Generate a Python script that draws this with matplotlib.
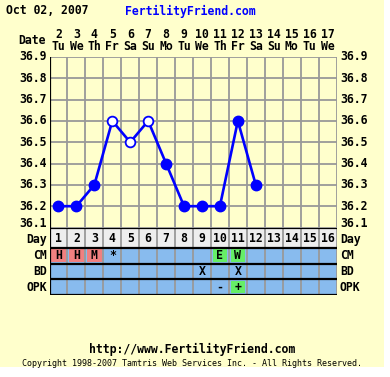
import matplotlib
matplotlib.use('Agg')
import matplotlib.pyplot as plt
from matplotlib.patches import Rectangle
from matplotlib.transforms import blended_transform_factory, offset_copy

# chart data
days = list(range(1, 17))
dates = [2, 3, 4, 5, 6, 7, 8, 9, 10, 11, 12, 13, 14, 15, 16, 17]
weekdays = ['Tu', 'We', 'Th', 'Fr', 'Sa', 'Su', 'Mo', 'Tu', 'We', 'Th', 'Fr', 'Sa', 'Su', 'Mo', 'Tu', 'We']
temp_days = [1, 2, 3, 4, 5, 6, 7, 8, 9, 10, 11, 12]
temps = [36.2, 36.2, 36.3, 36.6, 36.5, 36.6, 36.4, 36.2, 36.2, 36.2, 36.6, 36.3]
open_days = [4, 5, 6]
yticks = [36.1, 36.2, 36.3, 36.4, 36.5, 36.6, 36.7, 36.8, 36.9]
cm = {1: 'H', 2: 'H', 3: 'M', 4: '*', 10: 'E', 11: 'W'}
bd = {9: 'X', 11: 'X'}
opk = {10: '-', 11: '+'}

BG = '#FFFFCC'
BLUE = '#0000FF'
ROW = '#88BBEE'
GRID = '#999999'
RED = '#F08080'
GREEN = '#66EE66'
W, H = 390, 377
MONO = 'DejaVu Sans Mono'


def fx(x):
    return x / W


def fy(y):
    return 1 - y / H


fig = plt.figure(figsize=(3.9, 3.77), dpi=100, facecolor='white')
fig.patches.append(Rectangle((0, fy(367)), fx(384), 1 - fy(367), transform=fig.transFigure,
                             facecolor=BG, edgecolor='none', zorder=-10))

left, right, top, mid, bot = 49.5, 336.5, 57, 227.5, 295
ax = fig.add_axes([fx(left), fy(mid), fx(right - left), (mid - top) / H])
ax.set_facecolor(BG)
ax.set_xlim(0.5, 16.5)
ax.set_ylim(36.1, 36.9)
for d in range(0, 17):
    ax.axvline(d + 0.5, color=GRID, lw=1.3, zorder=1)
for t in yticks:
    ax.axhline(t, color=GRID, lw=1.3, zorder=1)
ax.set_xticks([])
ax.set_yticks([])
for s in ax.spines.values():
    s.set_visible(False)
ax.axvline(0.5, color='black', lw=1.6, zorder=2)

ax.plot(temp_days, temps, color=BLUE, lw=1.9, zorder=3)
filled = [(d, t) for d, t in zip(temp_days, temps) if d not in open_days]
hollow = [(d, t) for d, t in zip(temp_days, temps) if d in open_days]
ax.plot([p[0] for p in filled], [p[1] for p in filled], 'o', color=BLUE, ms=7.5, zorder=4, ls='none')
ax.plot([p[0] for p in hollow], [p[1] for p in hollow], 'o', mfc='white', mec=BLUE, mew=1.3,
        ms=7, zorder=4, ls='none')

ytr = blended_transform_factory(ax.transAxes, ax.transData)
for t in yticks:
    lab = '%.1f' % t
    tr = ytr
    if t == yticks[0]:
        tr = offset_copy(ytr, fig=fig, y=4, units='dots')
    ax.text(-0.01, t, lab, transform=tr, ha='right', va='center', fontsize=8.3, fontweight='bold', family=MONO)
    ax.text(1.012, t, lab, transform=tr, ha='left', va='center', fontsize=8.3, fontweight='bold', family=MONO)

# header: dates and weekdays
hdr = blended_transform_factory(ax.transData, fig.transFigure)
for d, dt, wd in zip(days, dates, weekdays):
    ax.text(d, fy(34), str(dt), transform=hdr, ha='center', va='center',
            fontsize=8.3, fontweight='bold', family=MONO)
    ax.text(d, fy(47), wd, transform=hdr, ha='center', va='center',
            fontsize=8.3, fontweight='bold', family=MONO)
fig.text(fx(46), fy(41), 'Date', ha='right', va='center', fontsize=8.3, fontweight='bold', family=MONO)
fig.text(fx(6), fy(11), 'Oct 02, 2007', ha='left', va='center', fontsize=8.3, fontweight='bold', family=MONO)
fig.text(fx(125), fy(11), 'FertilityFriend.com', ha='left', va='center', fontsize=8.3,
         fontweight='bold', family=MONO, color=BLUE)

# table rows below the chart
tx = fig.add_axes([fx(left), fy(bot), fx(right - left), (bot - mid) / H])
tx.set_xlim(0.5, 16.5)
tx.set_ylim(0, 4.32)
tx.set_xticks([])
tx.set_yticks([])
for s in tx.spines.values():
    s.set_visible(False)
tx.add_patch(Rectangle((0.5, 3), 16, 1.32, facecolor='#EEEEEE', edgecolor='none', zorder=0))
tx.add_patch(Rectangle((0.5, 0), 16, 3, facecolor=ROW, edgecolor='none', zorder=0))
for d in range(0, 17):
    tx.axvline(d + 0.5, color=GRID, lw=1.3, zorder=1)
for yy in [0, 1, 2, 3, 4.32]:
    tx.axhline(yy, color='black', lw=1.6, zorder=2)
tx.axvline(0.5, color='black', lw=1.6, zorder=2)

for d in days:
    tx.text(d, 3.62, str(d), ha='center', va='center', fontsize=8.3, fontweight='bold', family=MONO)

rows = [('CM', 2, cm), ('BD', 1, bd), ('OPK', 0, opk)]
for name, y0, vals in rows:
    for d, v in vals.items():
        col = None
        if v in ('H', 'M'):
            col = RED
        elif v in ('E', 'W', '+'):
            col = GREEN
        if col:
            tx.add_patch(Rectangle((d - 0.4, y0 + 0.1), 0.8, 0.82, facecolor=col, edgecolor='none', zorder=1.5))
        tx.text(d, y0 + 0.5, v, ha='center', va='center', fontsize=8.3, fontweight='bold',
                family=MONO, zorder=3)

lbl = blended_transform_factory(tx.transAxes, tx.transData)
for name, yc in [('Day', 3.55), ('CM', 2.5), ('BD', 1.5), ('OPK', 0.5)]:
    tx.text(-0.01, yc, name, transform=lbl, ha='right', va='center', fontsize=8.3,
            fontweight='bold', family=MONO)
    tx.text(1.012, yc, name, transform=lbl, ha='left', va='center', fontsize=8.3,
            fontweight='bold', family=MONO)

fig.text(fx(192), fy(349), 'http://www.FertilityFriend.com', ha='center', va='center',
         fontsize=8.3, fontweight='bold', family=MONO)
fig.text(fx(192), fy(364), 'Copyright 1998-2007 Tamtris Web Services Inc. - All Rights Reserved.',
         ha='center', va='center', fontsize=6, family=MONO)

fig.savefig('out.png', dpi=100, facecolor='white')
plt.close('all')
